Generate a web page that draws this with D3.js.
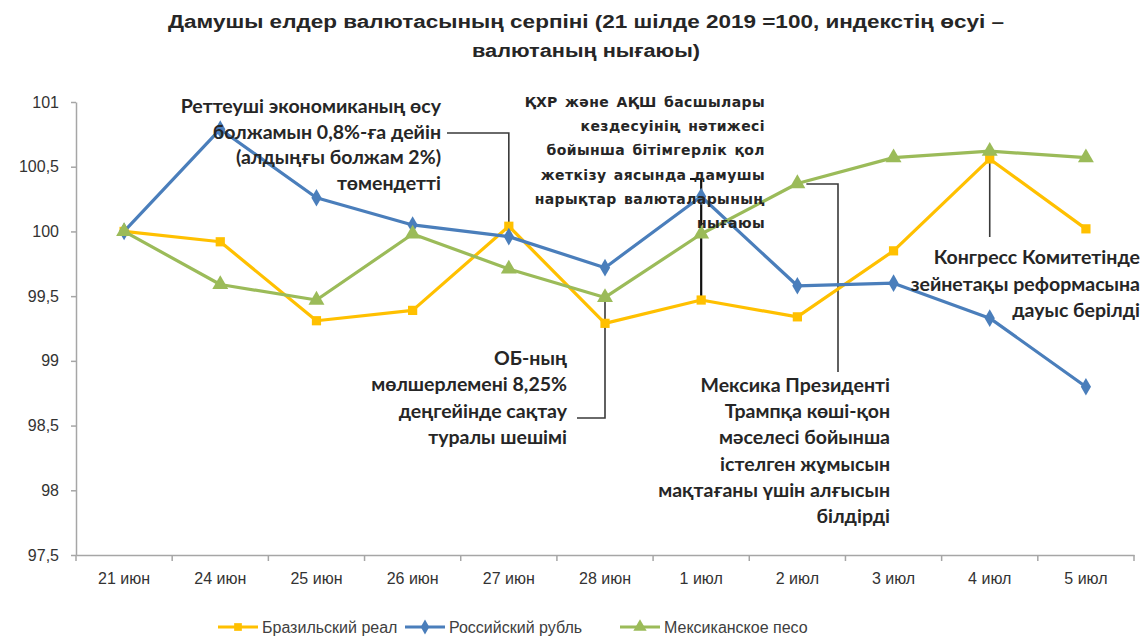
<!DOCTYPE html>
<html>
<head>
<meta charset="utf-8">
<script src="https://cdn.jsdelivr.net/npm/d3@7"></script>
<style>
  body { margin: 0; background: #fff; }
  svg { display: block; }
  .axis text { font-family: "Liberation Sans", Arial, sans-serif; font-size: 16px; fill: #333; }
  .axis path, .axis line { stroke: #a6a6a6; stroke-width: 1.5; }
  .note { font-family: Lato, "Open Sans", sans-serif; font-weight: bold; font-size: 19.5px; fill: #262626; }
  .note2 { font-family: "DejaVu Sans", sans-serif; font-weight: bold; font-size: 14px; letter-spacing: 0.4px; word-spacing: 2px; fill: #262626; }
</style>
</head>
<body>
<div id="chart"></div>
<script>
const categories = ["21 июн", "24 июн", "25 июн", "26 июн", "27 июн", "28 июн", "1 июл", "2 июл", "3 июл", "4 июл", "5 июл"];
const brl = [100, 99.92, 99.31, 99.39, 100.04, 99.29, 99.47, 99.34, 99.85, 100.56, 100.02];
const rub = [100, 100.79, 100.26, 100.05, 99.96, 99.72, 100.27, 99.58, 99.60, 99.33, 98.80];
const mxn = [100, 99.59, 99.47, 99.98, 99.71, 99.49, 99.98, 100.37, 100.57, 100.62, 100.57];
const seriesNames = ["Бразильский реал", "Российский рубль", "Мексиканское песо"];
const yTicks = [97.5, 98, 98.5, 99, 99.5, 100, 100.5, 101];
const titleLines = ["Дамушы елдер валютасының серпіні (21 шілде 2019 =100, индекстің өсуі –", "валютаның нығаюы)"];

// annotation texts and the category / value they point at
const notes = [
  { lines: ["Реттеуші экономиканың өсу", "болжамын 0,8%-ға дейін", "(алдыңғы болжам 2%)", "төмендетті"], cat: 4, val: brl[4] },
  { lines: ["ҚХР және АҚШ басшылары", "кездесуінің нәтижесі", "бойынша бітімгерлік қол", "жеткізу аясында дамушы", "нарықтар валюталарының", "нығаюы"], cat: 6, val: brl[6] },
  { lines: ["ОБ-ның", "мөлшерлемені 8,25%", "деңгейінде сақтау", "туралы шешімі"], cat: 5, val: mxn[5] },
  { lines: ["Мексика Президенті", "Трампқа көші-қон", "мәселесі бойынша", "істелген жұмысын", "мақтағаны үшін алғысын", "білдірді"], cat: 7, val: mxn[7] },
  { lines: ["Конгресс Комитетінде", "зейнетақы реформасына", "дауыс берілді"], cat: 9, val: brl[9] }
];

const width = 1147, height = 637;
const plotLeft = 76, plotRight = 1134, plotTop = 102, plotBottom = 555;
const colors = ["#ffc000", "#4a7ebb", "#9bbb59"];

const svg = d3.select("#chart").append("svg")
  .attr("width", width)
  .attr("height", height);

const x = d3.scaleBand().domain(categories).range([plotLeft, plotRight]);
const y = d3.scaleLinear().domain([97.5, 101]).range([plotBottom, plotTop]);
const px = c => x(c) + x.bandwidth() / 2;

// title
svg.append("g").selectAll("text")
  .data(titleLines)
  .join("text")
  .attr("x", 586)
  .attr("y", (d, i) => 28 + i * 29)
  .attr("text-anchor", "middle")
  .attr("textLength", (d, i) => i == 0 ? 836 : 228)
  .attr("lengthAdjust", "spacingAndGlyphs")
  .style("font-family", "'Liberation Sans Narrow', 'Liberation Sans', sans-serif")
  .style("font-weight", "bold")
  .style("font-size", "18px")
  .style("fill", "#262626")
  .text(d => d);

// axes
const yAxis = svg.append("g")
  .attr("class", "axis")
  .attr("transform", `translate(${plotLeft},0)`)
  .call(d3.axisLeft(y).tickValues(yTicks).tickSize(5).tickSizeOuter(0).tickPadding(12)
    .tickFormat(d => String(d).replace(".", ",")));

const xAxis = svg.append("g")
  .attr("class", "axis")
  .attr("transform", `translate(0,${plotBottom})`)
  .call(d3.axisBottom(x).tickSize(0).tickSizeOuter(0).tickPadding(18));
xAxis.selectAll(".tick line")
  .attr("x1", -x.bandwidth() / 2).attr("x2", -x.bandwidth() / 2).attr("y2", 6);
xAxis.append("line")
  .attr("x1", plotRight).attr("x2", plotRight).attr("y1", 0).attr("y2", 6)
  .attr("stroke", "#a6a6a6").attr("stroke-width", 1.5);

// annotation connectors
const conn = svg.append("g").attr("fill", "none").attr("stroke", "#3a3a3a").attr("stroke-width", 1.6);
const n = notes;
conn.append("path").attr("d", `M447,133 H${px(categories[n[0].cat])} V${y(n[0].val) - 2}`);
conn.append("path").attr("d", `M690,179 H${px(categories[n[1].cat])} V${y(n[1].val)}`).attr("stroke-width", 2.2).attr("stroke", "#111");
conn.append("path").attr("d", `M577,418 H${px(categories[n[2].cat])} V${y(n[2].val) + 4}`);
conn.append("path").attr("d", `M${px(categories[n[3].cat]) + 9},184 H838 V372`);
conn.append("path").attr("d", `M${px(categories[n[4].cat])},${y(n[4].val)} V237`);

// lines
const line = d3.line().x((d, i) => px(categories[i])).y(d => y(d));
const allSeries = [brl, rub, mxn];
const symbols = [d3.symbolSquare, d3.symbolDiamond, d3.symbolTriangle];
const symSizes = [85, 90, 110];

allSeries.forEach((s, k) => {
  svg.append("path")
    .datum(s)
    .attr("fill", "none")
    .attr("stroke", colors[k])
    .attr("stroke-width", 3.2)
    .attr("stroke-linejoin", "round")
    .attr("d", line);
  svg.append("g").selectAll("path")
    .data(s)
    .join("path")
    .attr("transform", (d, i) => `translate(${px(categories[i])},${y(d)})`)
    .attr("d", d3.symbol().type(symbols[k]).size(symSizes[k]))
    .attr("fill", colors[k]);
});

// annotation texts
const noteLayout = [
  { x: 441, y0: 113, dy: 25.5, cls: "note" },
  { x: 765, y0: 107, dy: 24.2, cls: "note2" },
  { x: 567, y0: 365, dy: 26.3, cls: "note" },
  { x: 890, y0: 392, dy: 26.2, cls: "note" },
  { x: 1140, y0: 264, dy: 26.5, cls: "note" }
];
notes.forEach((nt, k) => {
  const L = noteLayout[k];
  svg.append("g").selectAll("text")
    .data(nt.lines)
    .join("text")
    .attr("class", L.cls)
    .attr("x", L.x)
    .attr("y", (d, i) => L.y0 + i * L.dy)
    .attr("text-anchor", "end")
    .text(d => d);
});

// legend
const legendX = [218, 405, 620];
const lg = svg.append("g").attr("transform", "translate(0,627)");
seriesNames.forEach((name, k) => {
  const g = lg.append("g").attr("transform", `translate(${legendX[k]},0)`);
  g.append("line").attr("x1", 0).attr("x2", 40).attr("stroke", colors[k]).attr("stroke-width", 3.2);
  g.append("path").attr("transform", "translate(20,0)")
    .attr("d", d3.symbol().type(symbols[k]).size(symSizes[k] * 0.7)).attr("fill", colors[k]);
  g.append("text").attr("x", 44).attr("y", 6)
    .style("font-family", "'Liberation Sans', Arial, sans-serif")
    .style("font-size", "16px").style("fill", "#404040")
    .text(name);
});
</script>
</body>
</html>
